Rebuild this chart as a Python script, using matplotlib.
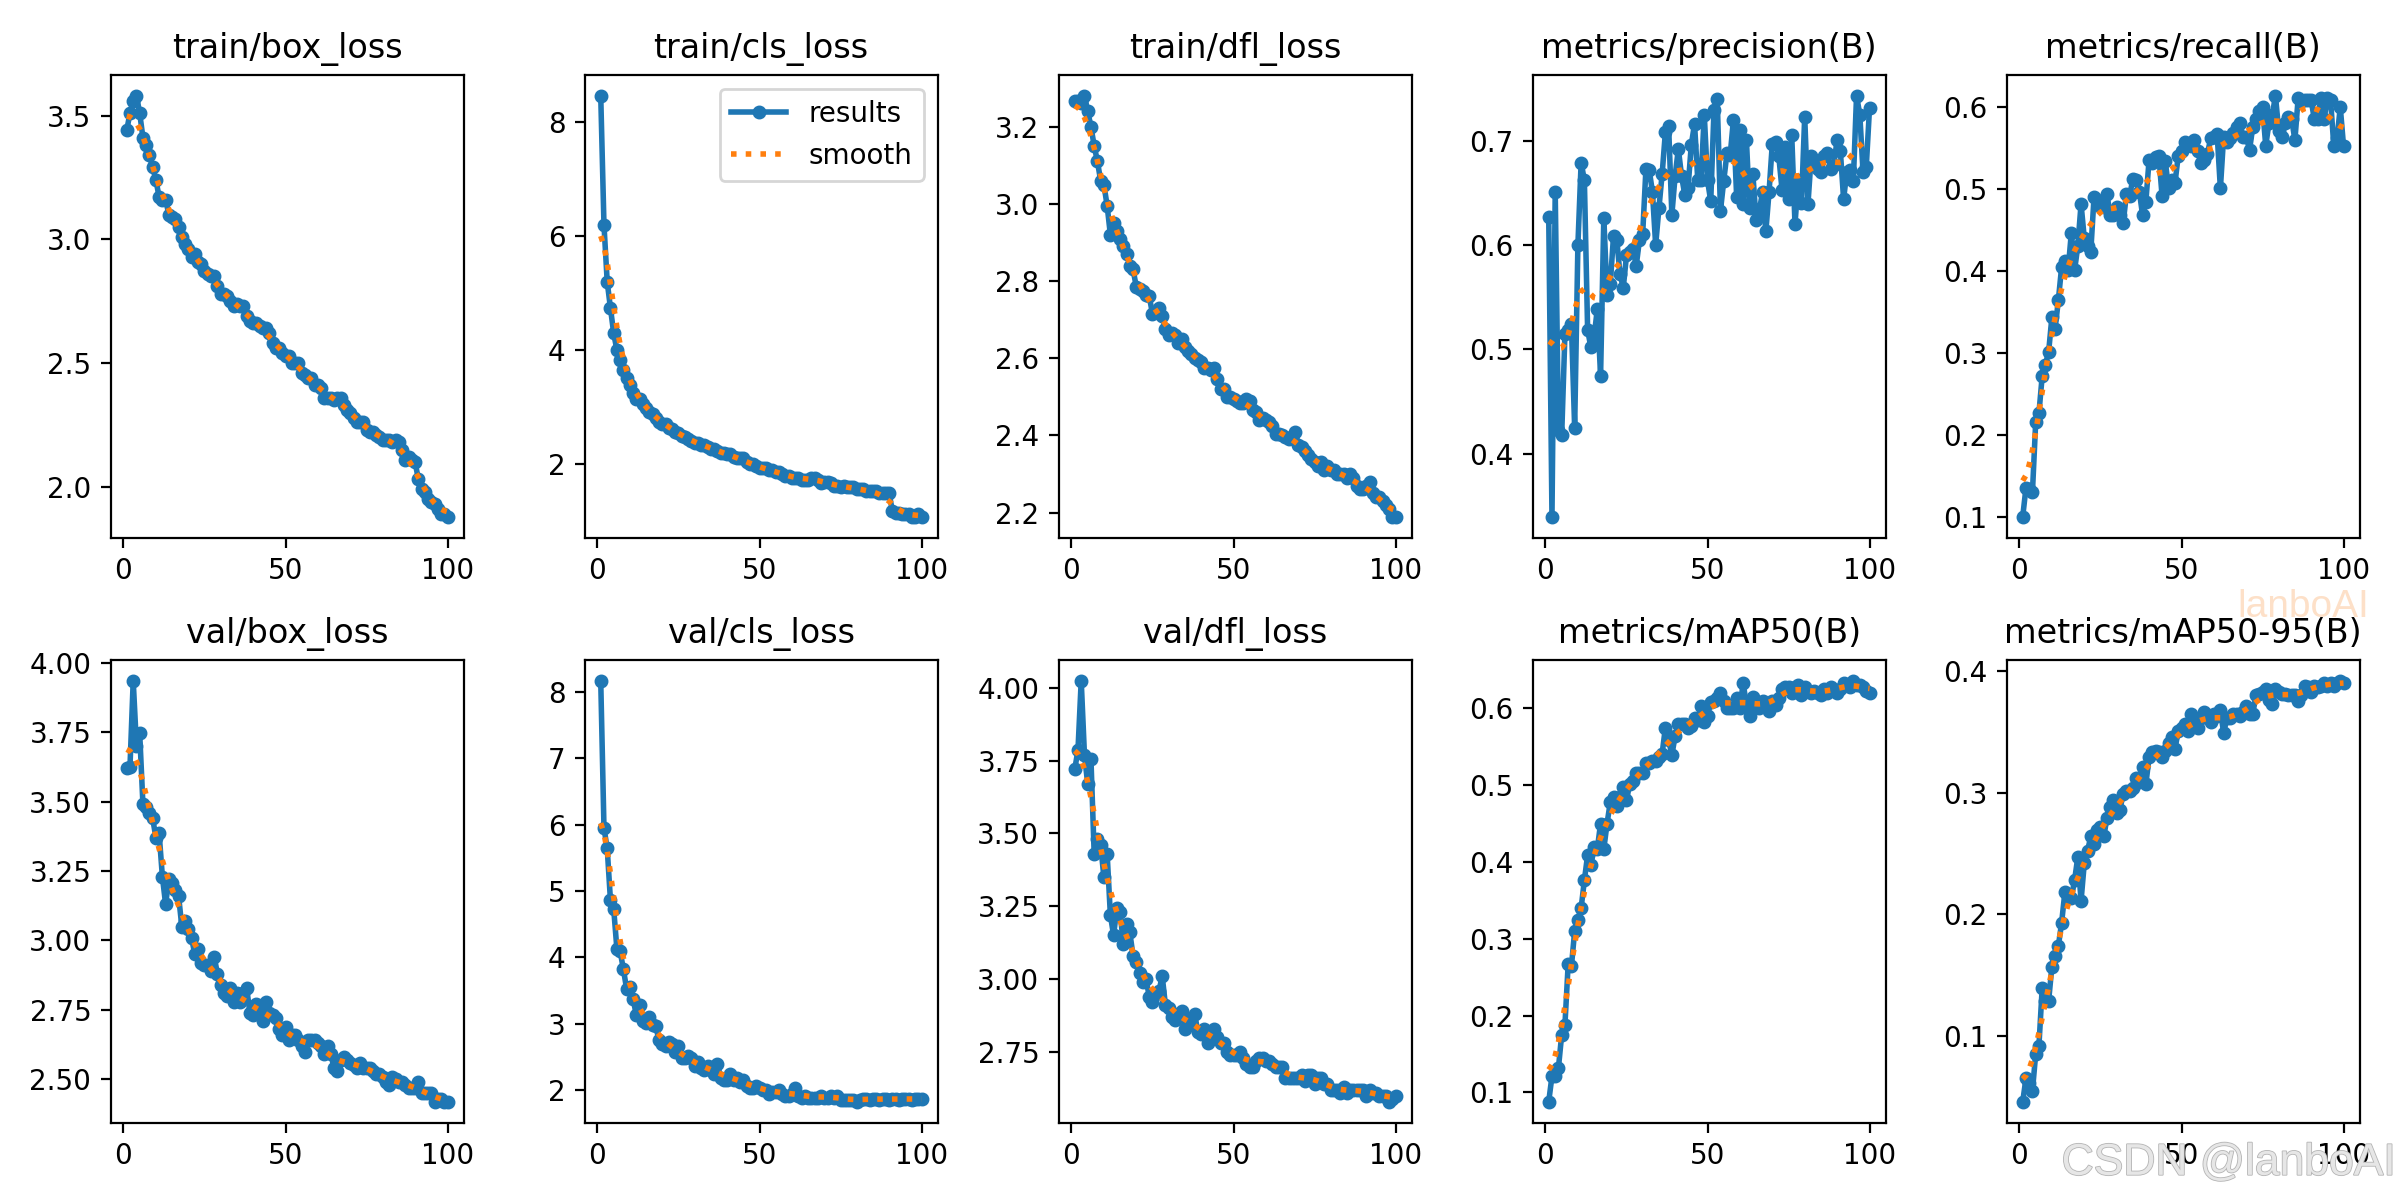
import numpy as np
import matplotlib
matplotlib.use("Agg")
import matplotlib.pyplot as plt
import matplotlib.patheffects as pe
from matplotlib.ticker import MultipleLocator

titles = ["train/box_loss", "train/cls_loss", "train/dfl_loss", "metrics/precision(B)", "metrics/recall(B)",
          "val/box_loss", "val/cls_loss", "val/dfl_loss", "metrics/mAP50(B)", "metrics/mAP50-95(B)"]

train_box_loss = [3.44, 3.51, 3.56, 3.58, 3.51, 3.41, 3.38, 3.34, 3.29, 3.24,
                  3.17, 3.16, 3.16, 3.10, 3.09, 3.08, 3.05, 3.01, 2.98, 2.96,
                  2.93, 2.94, 2.91, 2.90, 2.87, 2.86, 2.85, 2.85, 2.81, 2.78,
                  2.78, 2.77, 2.75, 2.73, 2.74, 2.73, 2.73, 2.69, 2.67, 2.66,
                  2.66, 2.65, 2.64, 2.64, 2.62, 2.58, 2.56, 2.56, 2.54, 2.53,
                  2.53, 2.50, 2.50, 2.50, 2.46, 2.45, 2.44, 2.44, 2.41, 2.41,
                  2.40, 2.36, 2.36, 2.36, 2.35, 2.36, 2.36, 2.33, 2.31, 2.30,
                  2.28, 2.26, 2.26, 2.26, 2.23, 2.22, 2.22, 2.21, 2.20, 2.19,
                  2.19, 2.19, 2.18, 2.19, 2.18, 2.15, 2.11, 2.12, 2.11, 2.10,
                  2.03, 1.99, 1.98, 1.95, 1.94, 1.93, 1.91, 1.89, 1.89, 1.88]

train_cls_loss = [8.46, 6.19, 5.19, 4.73, 4.29, 3.99, 3.82, 3.65, 3.51, 3.38,
                  3.24, 3.14, 3.14, 3.04, 2.97, 2.90, 2.87, 2.80, 2.73, 2.70,
                  2.70, 2.63, 2.60, 2.56, 2.53, 2.49, 2.46, 2.43, 2.39, 2.36,
                  2.36, 2.33, 2.33, 2.29, 2.26, 2.26, 2.22, 2.19, 2.19, 2.16,
                  2.16, 2.12, 2.09, 2.09, 2.09, 2.02, 1.99, 1.99, 1.95, 1.92,
                  1.92, 1.92, 1.88, 1.88, 1.85, 1.85, 1.82, 1.78, 1.78, 1.75,
                  1.75, 1.75, 1.72, 1.72, 1.72, 1.75, 1.75, 1.72, 1.65, 1.68,
                  1.68, 1.65, 1.61, 1.61, 1.58, 1.61, 1.58, 1.58, 1.58, 1.55,
                  1.55, 1.55, 1.51, 1.51, 1.51, 1.51, 1.48, 1.48, 1.48, 1.48,
                  1.17, 1.14, 1.14, 1.11, 1.11, 1.11, 1.07, 1.07, 1.11, 1.07]

train_dfl_loss = [3.265, 3.265, 3.26, 3.28, 3.24, 3.20, 3.15, 3.11, 3.06, 3.05,
                  2.995, 2.92, 2.95, 2.93, 2.91, 2.89, 2.87, 2.84, 2.83, 2.785,
                  2.78, 2.775, 2.765, 2.76, 2.715, 2.72, 2.73, 2.71, 2.675, 2.66,
                  2.665, 2.66, 2.64, 2.65, 2.63, 2.62, 2.61, 2.60, 2.595, 2.59,
                  2.575, 2.575, 2.57, 2.575, 2.545, 2.52, 2.52, 2.50, 2.50, 2.495,
                  2.49, 2.485, 2.485, 2.495, 2.49, 2.465, 2.46, 2.44, 2.445, 2.44,
                  2.435, 2.425, 2.405, 2.405, 2.40, 2.395, 2.39, 2.395, 2.41, 2.375,
                  2.37, 2.36, 2.35, 2.34, 2.33, 2.32, 2.33, 2.31, 2.32, 2.31,
                  2.31, 2.30, 2.30, 2.30, 2.29, 2.30, 2.29, 2.27, 2.26, 2.26,
                  2.27, 2.28, 2.25, 2.24, 2.24, 2.23, 2.22, 2.21, 2.19, 2.19]

precision = [0.627, 0.340, 0.651, 0.423, 0.418, 0.515, 0.519, 0.524, 0.425, 0.600,
             0.679, 0.662, 0.519, 0.502, 0.512, 0.539, 0.475, 0.626, 0.552, 0.563,
             0.609, 0.605, 0.572, 0.559, 0.590, 0.593, 0.596, 0.580, 0.605, 0.611,
             0.673, 0.672, 0.651, 0.600, 0.635, 0.668, 0.708, 0.714, 0.629, 0.666,
             0.692, 0.666, 0.648, 0.655, 0.696, 0.716, 0.662, 0.662, 0.725, 0.662,
             0.642, 0.729, 0.740, 0.633, 0.661, 0.688, 0.686, 0.720, 0.646, 0.710,
             0.639, 0.701, 0.635, 0.668, 0.624, 0.633, 0.651, 0.613, 0.651, 0.697,
             0.699, 0.685, 0.653, 0.694, 0.644, 0.705, 0.620, 0.662, 0.640, 0.723,
             0.639, 0.685, 0.681, 0.673, 0.670, 0.685, 0.688, 0.673, 0.677, 0.701,
             0.690, 0.644, 0.670, 0.672, 0.661, 0.743, 0.725, 0.670, 0.675, 0.731]

recall = [0.101, 0.136, 0.134, 0.131, 0.216, 0.227, 0.272, 0.286, 0.302, 0.344,
          0.330, 0.365, 0.405, 0.412, 0.401, 0.447, 0.401, 0.431, 0.482, 0.440,
          0.431, 0.424, 0.490, 0.487, 0.480, 0.478, 0.494, 0.468, 0.468, 0.478,
          0.468, 0.459, 0.494, 0.492, 0.513, 0.511, 0.497, 0.468, 0.485, 0.536,
          0.532, 0.539, 0.541, 0.492, 0.534, 0.501, 0.511, 0.508, 0.541, 0.546,
          0.557, 0.555, 0.553, 0.560, 0.546, 0.532, 0.536, 0.543, 0.562, 0.564,
          0.567, 0.501, 0.564, 0.557, 0.562, 0.569, 0.576, 0.581, 0.564, 0.564,
          0.548, 0.576, 0.585, 0.595, 0.600, 0.553, 0.581, 0.590, 0.614, 0.571,
          0.564, 0.581, 0.588, 0.585, 0.560, 0.611, 0.607, 0.609, 0.609, 0.609,
          0.585, 0.585, 0.611, 0.585, 0.611, 0.609, 0.553, 0.562, 0.600, 0.553]

val_box_loss = [3.62, 3.625, 3.935, 3.70, 3.745, 3.49, 3.48, 3.46, 3.44, 3.37,
                3.385, 3.23, 3.13, 3.22, 3.205, 3.18, 3.16, 3.05, 3.07, 3.04,
                3.01, 2.95, 2.97, 2.92, 2.91, 2.91, 2.89, 2.94, 2.88, 2.84,
                2.81, 2.80, 2.83, 2.78, 2.81, 2.78, 2.81, 2.83, 2.74, 2.73,
                2.77, 2.74, 2.71, 2.78, 2.74, 2.73, 2.72, 2.68, 2.66, 2.69,
                2.64, 2.66, 2.66, 2.64, 2.62, 2.60, 2.64, 2.64, 2.64, 2.63,
                2.62, 2.59, 2.62, 2.59, 2.54, 2.53, 2.57, 2.58, 2.57, 2.56,
                2.55, 2.54, 2.56, 2.54, 2.54, 2.54, 2.53, 2.52, 2.52, 2.51,
                2.49, 2.48, 2.51, 2.50, 2.49, 2.49, 2.48, 2.47, 2.47, 2.47,
                2.49, 2.45, 2.45, 2.45, 2.45, 2.42, 2.43, 2.43, 2.42, 2.42]

val_cls_loss = [8.165, 5.95, 5.64, 4.86, 4.73, 4.12, 4.09, 3.82, 3.52, 3.55,
                3.37, 3.13, 3.28, 3.04, 3.01, 3.10, 2.98, 2.96, 2.75, 2.69,
                2.66, 2.72, 2.69, 2.57, 2.66, 2.48, 2.48, 2.51, 2.48, 2.36,
                2.42, 2.34, 2.31, 2.36, 2.31, 2.25, 2.40, 2.19, 2.16, 2.16,
                2.25, 2.16, 2.19, 2.13, 2.16, 2.07, 2.04, 2.04, 2.07, 2.04,
                2.01, 2.01, 1.95, 1.98, 1.98, 2.01, 1.95, 1.92, 1.92, 1.95,
                2.04, 1.92, 1.89, 1.92, 1.89, 1.89, 1.89, 1.89, 1.92, 1.89,
                1.89, 1.92, 1.89, 1.92, 1.86, 1.86, 1.86, 1.86, 1.86, 1.83,
                1.86, 1.87, 1.87, 1.86, 1.87, 1.87, 1.86, 1.87, 1.87, 1.86,
                1.87, 1.87, 1.86, 1.87, 1.87, 1.87, 1.86, 1.87, 1.87, 1.87]

val_dfl_loss = [3.72, 3.786, 4.024, 3.77, 3.67, 3.757, 3.43, 3.48, 3.46, 3.35,
                3.43, 3.22, 3.15, 3.245, 3.23, 3.12, 3.19, 3.16, 3.08, 3.06,
                3.02, 2.99, 3.00, 2.94, 2.92, 2.95, 2.96, 3.01, 2.91, 2.90,
                2.87, 2.86, 2.88, 2.89, 2.83, 2.86, 2.85, 2.88, 2.82, 2.81,
                2.83, 2.78, 2.80, 2.83, 2.80, 2.78, 2.78, 2.75, 2.74, 2.74,
                2.74, 2.75, 2.73, 2.71, 2.70, 2.70, 2.72, 2.73, 2.73, 2.72,
                2.72, 2.71, 2.70, 2.70, 2.70, 2.66, 2.66, 2.66, 2.66, 2.66,
                2.67, 2.65, 2.67, 2.67, 2.64, 2.66, 2.66, 2.64, 2.64, 2.62,
                2.62, 2.62, 2.61, 2.63, 2.61, 2.62, 2.62, 2.62, 2.62, 2.62,
                2.60, 2.62, 2.61, 2.61, 2.60, 2.60, 2.60, 2.58, 2.59, 2.60]

map50 = [0.088, 0.121, 0.121, 0.132, 0.175, 0.188, 0.267, 0.264, 0.310, 0.325,
         0.340, 0.376, 0.409, 0.396, 0.419, 0.417, 0.450, 0.417, 0.450, 0.478,
         0.485, 0.473, 0.485, 0.497, 0.480, 0.502, 0.505, 0.516, 0.516, 0.516,
         0.529, 0.529, 0.531, 0.531, 0.536, 0.541, 0.575, 0.559, 0.539, 0.564,
         0.580, 0.580, 0.580, 0.575, 0.577, 0.587, 0.585, 0.603, 0.582, 0.590,
         0.608, 0.610, 0.613, 0.620, 0.610, 0.600, 0.600, 0.600, 0.613, 0.600,
         0.633, 0.605, 0.590, 0.615, 0.605, 0.600, 0.610, 0.605, 0.597, 0.610,
         0.605, 0.613, 0.625, 0.628, 0.628, 0.620, 0.628, 0.631, 0.618, 0.628,
         0.623, 0.620, 0.623, 0.620, 0.618, 0.625, 0.620, 0.628, 0.623, 0.620,
         0.625, 0.633, 0.631, 0.628, 0.636, 0.631, 0.631, 0.628, 0.623, 0.620]

map50_95 = [0.046, 0.065, 0.061, 0.055, 0.085, 0.092, 0.139, 0.129, 0.129, 0.157,
            0.166, 0.174, 0.193, 0.218, 0.215, 0.213, 0.228, 0.247, 0.211, 0.242,
            0.252, 0.264, 0.258, 0.269, 0.272, 0.264, 0.279, 0.288, 0.294, 0.283,
            0.286, 0.299, 0.301, 0.301, 0.304, 0.312, 0.309, 0.321, 0.307, 0.329,
            0.333, 0.334, 0.333, 0.329, 0.334, 0.341, 0.346, 0.336, 0.351, 0.353,
            0.356, 0.351, 0.365, 0.355, 0.353, 0.361, 0.366, 0.363, 0.358, 0.365,
            0.363, 0.368, 0.349, 0.361, 0.361, 0.365, 0.365, 0.363, 0.366, 0.371,
            0.365, 0.365, 0.380, 0.381, 0.383, 0.385, 0.376, 0.373, 0.385, 0.383,
            0.381, 0.381, 0.380, 0.380, 0.380, 0.375, 0.380, 0.388, 0.387, 0.383,
            0.388, 0.387, 0.388, 0.390, 0.388, 0.390, 0.388, 0.390, 0.392, 0.390]

series = [train_box_loss, train_cls_loss, train_dfl_loss, precision, recall,
          val_box_loss, val_cls_loss, val_dfl_loss, map50, map50_95]

# y tick spacing seen on each panel of the reference
y_steps = [0.5, 2, 0.2, 0.1, 0.1, 0.25, 1, 0.25, 0.1, 0.1]


def gaussian_smooth(y, sigma=3):
    # same as scipy gaussian_filter1d (mode='reflect', truncate=4)
    r = int(4 * sigma + 0.5)
    k = np.exp(-0.5 * (np.arange(-r, r + 1) / sigma) ** 2)
    k /= k.sum()
    yp = np.pad(np.asarray(y, dtype=float), r, mode="symmetric")
    return np.convolve(yp, k, mode="valid")


fig, ax = plt.subplots(2, 5, figsize=(12, 6), tight_layout=True)
ax = ax.ravel()
for i, (name, y) in enumerate(zip(titles, series)):
    x = np.arange(1, len(y) + 1)
    ax[i].plot(x, y, marker=".", label="results", linewidth=2, markersize=8)
    ax[i].plot(x, gaussian_smooth(y), ":", label="smooth", linewidth=2)
    ax[i].set_title(name, fontsize=12)
    ax[i].yaxis.set_major_locator(MultipleLocator(y_steps[i]))
ax[1].legend()

fig.savefig("out.png", dpi=200)

# watermarks on the reference, added after the layout is fixed
fig.set_tight_layout(False)
fig.text(0.987, 0.494, "lanboAI", color="#fde0c8", fontsize=14, family="Liberation Sans",
         ha="right", va="center")
fig.text(0.859, 0.021, "CSDN @lanboAI", color="#e6e6e6", fontsize=16, family="Liberation Sans",
         ha="left", va="baseline",
         path_effects=[pe.withStroke(linewidth=0.6, foreground="#b4b4b4")])
fig.savefig("out.png", dpi=200)
